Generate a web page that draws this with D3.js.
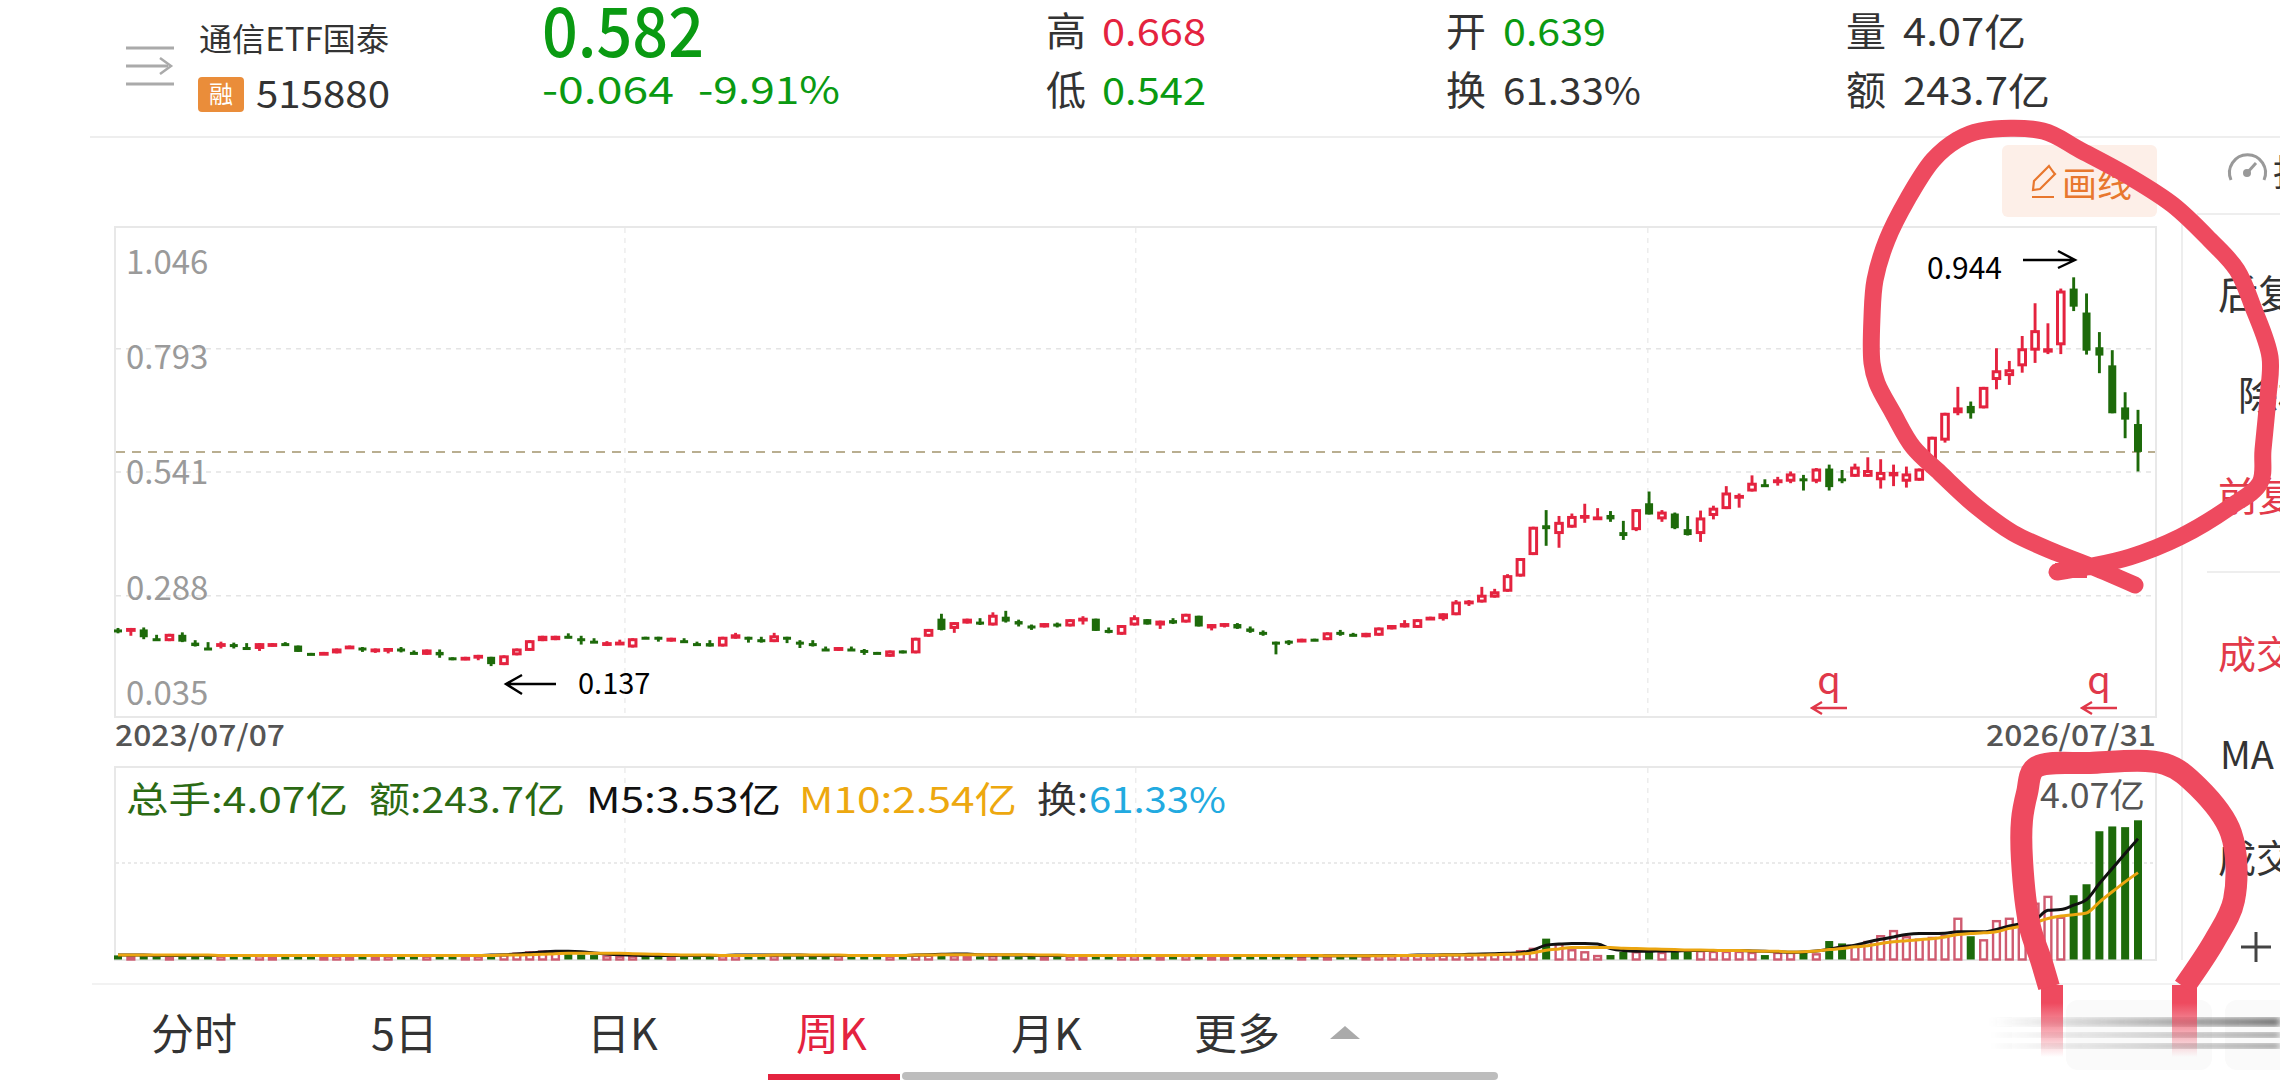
<!DOCTYPE html>
<html><head><meta charset="utf-8">
<style>html,body{margin:0;padding:0;background:#fff;overflow:hidden}svg{display:block}text{font-family:"Noto Sans CJK SC","Noto Sans",sans-serif}</style>
<script src="https://cdn.jsdelivr.net/npm/d3@7/dist/d3.min.js"></script>
</head><body><svg id="c" width="2280" height="1080" xmlns="http://www.w3.org/2000/svg"></svg>
<script>
const open=[.219,.214,.219,.201,.195,.208,.192,.182,.185,.189,
.183,.179,.187,.191,.186,.171,.169,.170,.179,.182,
.174,.175,.180,.173,.167,.173,.162,.156,.161,.163,
.146,.166,.175,.195,.197,.206,.201,.196,.188,.189,
.182,.204,.204,.194,.197,.191,.191,.184,.200,.204,
.199,.193,.204,.194,.191,.180,.175,.180,.177,.173,
.163,.176,.170,.204,.241,.220,.231,.235,.227,.245,
.236,.227,.223,.231,.225,.237,.241,.218,.208,.227,
.240,.227,.238,.233,.247,.221,.226,.230,.221,.214,
.194,.196,.193,.200,.197,.214,.210,.203,.206,.219,
.223,.222,.239,.240,.248,.272,.274,.284,.296,.327,
.371,.432,.414,.427,.446,.444,.453,.418,.422,.477,
.444,.456,.424,.414,.451,.465,.489,.501,.516,.518,
.521,.528,.521,.548,.528,.531,.531,.524,.532,.521,
.523,.555,.605,.661,.676,.671,.729,.737,.757,.789,
.785,.800,.916,.867,.796,.759,.673,.639];
const high=[.222,.222,.223,.208,.210,.213,.197,.193,.194,.192,
.191,.191,.191,.193,.186,.171,.173,.180,.186,.183,
.180,.181,.183,.176,.178,.178,.162,.163,.167,.163,
.166,.180,.197,.206,.206,.211,.206,.201,.195,.198,
.201,.204,.204,.202,.201,.194,.197,.204,.212,.204,
.204,.212,.204,.197,.197,.184,.183,.184,.179,.173,
.176,.176,.202,.220,.251,.234,.241,.242,.254,.257,
.239,.229,.232,.233,.240,.246,.241,.223,.228,.248,
.240,.237,.242,.251,.247,.230,.232,.232,.225,.217,
.194,.197,.200,.200,.213,.218,.212,.212,.223,.228,
.238,.240,.245,.252,.279,.279,.306,.302,.332,.365,
.429,.463,.451,.456,.476,.467,.461,.441,.465,.501,
.463,.458,.451,.462,.472,.512,.497,.534,.526,.531,
.542,.535,.549,.556,.545,.558,.571,.567,.556,.552,
.548,.613,.662,.715,.685,.715,.794,.768,.819,.886,
.845,.916,.939,.906,.827,.790,.704,.668];
const low=[.211,.206,.199,.196,.195,.193,.184,.177,.180,.180,
.180,.175,.184,.186,.173,.169,.169,.170,.179,.173,
.171,.170,.172,.169,.167,.161,.156,.156,.156,.144,
.146,.166,.175,.195,.197,.201,.188,.192,.185,.187,
.182,.200,.194,.194,.192,.186,.184,.184,.200,.192,
.192,.193,.191,.181,.184,.175,.175,.175,.167,.169,
.163,.170,.170,.204,.217,.212,.231,.228,.227,.233,
.225,.218,.223,.223,.225,.229,.216,.211,.208,.227,
.229,.220,.230,.233,.225,.217,.223,.220,.212,.206,
.168,.187,.193,.195,.197,.206,.205,.203,.206,.219,
.223,.222,.239,.237,.248,.267,.274,.284,.296,.327,
.371,.390,.386,.427,.437,.443,.439,.402,.420,.454,
.439,.424,.411,.398,.444,.465,.468,.501,.512,.513,
.518,.503,.518,.503,.518,.531,.531,.507,.512,.509,
.523,.555,.601,.657,.650,.671,.710,.719,.744,.764,
.782,.782,.870,.781,.743,.661,.610,.542];
const close=[.216,.222,.203,.197,.210,.194,.185,.178,.191,.184,
.181,.191,.191,.189,.173,.169,.173,.180,.186,.176,
.180,.181,.176,.170,.178,.166,.160,.163,.167,.148,
.166,.180,.197,.206,.206,.203,.197,.194,.193,.194,
.201,.200,.200,.202,.193,.187,.184,.204,.209,.201,
.197,.207,.199,.191,.186,.178,.183,.178,.172,.169,
.176,.170,.202,.220,.218,.234,.241,.229,.249,.235,
.229,.224,.232,.225,.240,.243,.216,.214,.228,.244,
.229,.237,.231,.251,.225,.230,.232,.221,.214,.209,
.192,.192,.200,.195,.213,.208,.206,.212,.223,.228,
.232,.240,.245,.252,.276,.278,.290,.297,.330,.365,
.429,.424,.439,.451,.453,.450,.444,.410,.465,.454,
.460,.426,.412,.448,.468,.499,.494,.519,.514,.526,
.538,.523,.548,.510,.524,.552,.545,.541,.541,.538,
.548,.613,.662,.673,.661,.715,.749,.751,.794,.831,
.794,.912,.879,.789,.779,.661,.648,.582];
const volume=[.12,.10,.12,.09,.10,.11,.09,.09,.11,.09,
.09,.12,.10,.09,.11,.09,.09,.11,.10,.09,
.10,.11,.09,.09,.11,.10,.09,.10,.11,.12,
.15,.20,.24,.26,.22,.16,.15,.13,.12,.11,
.11,.10,.10,.09,.10,.10,.10,.12,.12,.09,
.10,.12,.10,.10,.09,.10,.12,.09,.09,.09,
.11,.09,.15,.14,.16,.12,.10,.09,.12,.11,
.09,.09,.10,.09,.11,.10,.11,.09,.11,.12,
.09,.10,.09,.12,.11,.10,.09,.09,.09,.09,
.10,.09,.09,.08,.10,.09,.09,.10,.12,.12,
.12,.13,.12,.14,.16,.14,.17,.18,.20,.27,
.34,.61,.47,.30,.24,.13,.13,.22,.24,.22,
.22,.27,.27,.27,.25,.25,.25,.22,.13,.22,
.22,.22,.18,.54,.47,.42,.54,.71,.86,.68,
.61,.66,.71,1.22,.68,.59,1.15,1.22,1.44,1.66,
1.86,1.25,1.88,2.2,3.75,3.89,3.87,4.07];
const ma5=[.13,.13,.13,.12,.12,.12,.12,.12,.12,.12,
.12,.12,.12,.12,.12,.12,.12,.12,.12,.12,
.12,.12,.12,.12,.12,.12,.12,.12,.12,.13,
.14,.16,.19,.22,.24,.24,.23,.19,.16,.14,
.13,.12,.12,.12,.12,.12,.12,.12,.13,.13,
.13,.13,.13,.13,.12,.12,.12,.12,.12,.12,
.12,.12,.13,.14,.15,.16,.16,.14,.13,.13,
.13,.12,.12,.12,.12,.12,.12,.12,.12,.12,
.12,.12,.12,.12,.12,.12,.12,.12,.12,.12,
.11,.11,.11,.11,.11,.11,.11,.11,.12,.12,
.12,.13,.13,.14,.14,.15,.16,.17,.18,.20,
.28,.42,.45,.47,.47,.45,.32,.26,.24,.24,
.25,.25,.26,.26,.26,.26,.26,.25,.24,.23,
.21,.22,.25,.30,.37,.42,.51,.59,.66,.73,
.76,.76,.77,.81,.81,.81,.88,.98,1.05,1.15,
1.44,1.46,1.59,1.75,2.22,2.66,3.10,3.53];
const ma10=[.13,.13,.13,.13,.13,.13,.13,.13,.12,.12,
.12,.12,.12,.12,.12,.12,.12,.12,.12,.12,
.12,.12,.12,.12,.12,.12,.12,.12,.12,.12,
.13,.13,.14,.15,.17,.18,.18,.18,.18,.18,
.17,.16,.15,.14,.13,.13,.13,.12,.12,.12,
.12,.13,.13,.13,.13,.13,.13,.12,.12,.12,
.12,.12,.13,.13,.14,.14,.14,.14,.14,.14,
.14,.14,.13,.13,.12,.12,.12,.12,.12,.12,
.12,.12,.12,.12,.12,.12,.12,.12,.12,.12,
.12,.12,.12,.12,.11,.11,.11,.11,.11,.11,
.12,.12,.12,.13,.13,.13,.13,.14,.15,.16,
.20,.27,.31,.35,.35,.35,.35,.33,.32,.31,
.30,.29,.28,.28,.27,.26,.26,.25,.24,.24,
.22,.23,.25,.29,.32,.37,.40,.47,.52,.55,
.58,.61,.66,.73,.76,.78,.81,.91,.98,1.08,
1.20,1.27,1.31,1.36,1.68,1.98,2.27,2.54];
const priceTicks=[1.046,0.793,0.541,0.288,0.035];
const priceTickLabels=["1.046","0.793","0.541","0.288","0.035"];
const dateLabels=["2023/07/07","2026/07/31"];
const lastPrice=0.582;
const tabs=["分时","5日","日K","周K","月K","更多"];

const RED="#e4233f",GREEN="#1d6a0a",LIME="#0a9a12",INK="#333",STROKE="#ee4a5f";
const svg=d3.select("#c");
const x=d3.scaleLinear().domain([0,open.length-1]).range([118,2138]);
const y=d3.scaleLinear().domain([0.035,1.046]).range([719.4,225]);
const yv=d3.scaleLinear().domain([0,4.07]).range([959.5,820.3]);

function T(px,py,s,size,fill,opt={}){
  return svg.append("text").attr("x",px).attr("y",py).attr("dy","0.36em").text(s)
   .attr("font-size",size).attr("fill",fill).attr("text-anchor",opt.a||"start").attr("font-weight",opt.w||400)
   .attr("textLength",opt.len||null).attr("lengthAdjust",opt.len?"spacingAndGlyphs":null);
}
const L=(x1,y1,x2,y2,c,w,d)=>svg.append("line").attr("x1",x1).attr("y1",y1).attr("x2",x2).attr("y2",y2).attr("stroke",c).attr("stroke-width",w).attr("stroke-dasharray",d||null);

// header
[[48],[84]].forEach(r=>L(126,r[0],174,r[0],"#aaa",3));
L(126,66,168,66,"#aaa",3);
svg.append("path").attr("d","M160 58 L171 66 L160 74").attr("fill","none").attr("stroke","#aaa").attr("stroke-width",2.5);
T(199,39,"通信ETF国泰",32,INK,{len:190});
svg.append("rect").attr("x",198).attr("y",77).attr("width",46).attr("height",35).attr("rx",4).attr("fill","#ea8d3a");
T(221,94,"融",24,"#fff",{a:"middle"});
T(256,94,"515880",38,INK,{len:134});
T(542,33,"0.582",68,LIME,{w:500,len:162});
T(542,90,"-0.064",38,LIME,{len:132});
T(698,90,"-9.91%",38,LIME,{len:142});
T(1046,32,"高",40,INK);T(1102,32,"0.668",38,RED,{len:104});
T(1046,91,"低",40,INK);T(1102,91,"0.542",38,LIME,{len:104});
T(1446,32,"开",40,INK);T(1503,32,"0.639",38,LIME,{len:103});
T(1446,91,"换",40,INK);T(1503,91,"61.33%",38,INK,{len:138});
T(1846,32,"量",40,INK);T(1903,32,"4.07亿",38,INK,{len:123});
T(1846,91,"额",40,INK);T(1903,91,"243.7亿",38,INK,{len:147});
L(90,137,2280,137,"#eeeeee",2);

// draw button
svg.append("rect").attr("x",2002).attr("y",145).attr("width",155).attr("height",72).attr("rx",6).attr("fill","#fdefe8");
svg.append("path").attr("d","M2034 181 L2049 166 Q2053 172 2055 174 L2040 189 L2033 190 Z M2032 197 L2054 197").attr("fill","none").attr("stroke","#e8772e").attr("stroke-width",2.2);
T(2062,184,"画线",35,"#e8772e");
svg.append("path").attr("d","M2231 180 A18 18 0 1 1 2264 180").attr("fill","none").attr("stroke","#999").attr("stroke-width",3);
svg.append("circle").attr("cx",2247).attr("cy",173).attr("r",4).attr("fill","#999");
L(2247,173,2256,163,"#999",3);
T(2273,173,"指",36,INK);

// right panel
L(2182,216,2182,960,"#eeeeee",2);L(2197,214,2280,214,"#eeeeee",2);L(2207,572,2280,572,"#eeeeee",2);
T(2218,295,"后复权",40,INK);T(2238,396,"除权",40,INK);T(2218,497,"前复权",40,"#e23a4a");
T(2218,654,"成交量",38,"#e23a4a");T(2220,755,"MA",38,INK);T(2218,858,"成交额",38,INK);
L(2241,947,2271,947,"#444",3);L(2256,932,2256,962,"#444",3);

// price panel frame and grid
const frame=(t,b)=>svg.append("rect").attr("x",115).attr("y",t).attr("width",2041).attr("height",b-t).attr("fill","none").attr("stroke","#e8e8e8").attr("stroke-width",2);
frame(227,717);
[x(39.4),x(79.1),x(118.9)].forEach(v=>{L(v,228,v,716,"#ededed",1.5,"5 5");L(v,768,v,959,"#ededed",1.5,"5 5");});
priceTicks.slice(1,4).forEach(v=>L(116,y(v),2155,y(v),"#e4e4e4",1.5,"5 5"));
L(116,y(lastPrice),2155,y(lastPrice),"#b9ae90",2,"9 7");

// tick labels, placed inside the frame as in the app
const labelShift=[37,8,0,-8,-26];
priceTicks.forEach((v,i)=>T(126,y(v)+labelShift[i],priceTickLabels[i],33,"#9a9a9a"));
T(115,736,dateLabels[0],29,"#555",{w:500,len:170});
T(2156,736,dateLabels[1],29,"#555",{w:500,a:"end",len:170});

// candles
const candles=svg.append("g");
open.forEach((o,i)=>{
  const c=close[i],up=c>=o,col=up?RED:GREEN,px=x(i);
  candles.append("line").attr("x1",px).attr("x2",px).attr("y1",y(high[i])).attr("y2",y(low[i])).attr("stroke",col).attr("stroke-width",2.9);
  const t=y(Math.max(o,c)),b=y(Math.min(o,c));
  if(up) candles.append("rect").attr("x",px-3.3).attr("y",t+1.5).attr("width",6.6).attr("height",Math.max(b-t-3,0.8)).attr("fill","#fff").attr("stroke",col).attr("stroke-width",3);
  else candles.append("rect").attr("x",px-4).attr("y",t).attr("width",8).attr("height",Math.max(b-t,3)).attr("fill",col);
});

// annotations
const ann=(p,s)=>svg.append("path").attr("d",p).attr("fill","none").attr("stroke",s||"#000").attr("stroke-width",2.4);
ann("M2023 260 L2075 260 M2058 251 L2075 260 L2058 268");
T(1927,268,"0.944",30,"#000");
ann("M556 684 L506 684 M522 675 L506 684 L522 694");
T(578,684,"0.137",29,"#000");
[1829,2099].forEach(q=>{
  T(q,680,"q",38,"#e0384a",{a:"middle"});
  ann(`M${q+18} 708 L${q-17} 708 M${q-7} 702 L${q-17} 708 L${q-7} 714`,"#e0384a");
});

// volume panel
frame(767,960);
L(116,863,2155,863,"#e4e4e4",1.5,"3 3");
const vols=svg.append("g");
volume.forEach((v,i)=>{
  const up=close[i]>=open[i],px=x(i),t=yv(v),h=yv(0)-t;
  if(up) vols.append("rect").attr("x",px-3.4).attr("y",t+1).attr("width",6.8).attr("height",Math.max(h-1,0.5)).attr("fill","#fff").attr("stroke","#cf5b70").attr("stroke-width",2.4);
  else vols.append("rect").attr("x",px-4).attr("y",t).attr("width",8).attr("height",h).attr("fill",GREEN);
});
const line=a=>d3.line().x((d,i)=>x(i)).y(d=>yv(d)).curve(d3.curveMonotoneX)(a);
svg.append("path").attr("d",line(ma5)).attr("fill","none").attr("stroke","#111").attr("stroke-width",3);
svg.append("path").attr("d",line(ma10)).attr("fill","none").attr("stroke","#eba510").attr("stroke-width",3);

T(126,800,"总手:4.07亿",36,"#2b6a13",{len:222});
T(369,800,"额:243.7亿",36,"#2b6a13",{len:196});
T(586,800,"M5:3.53亿",36,"#111",{len:195});
T(799,800,"M10:2.54亿",36,"#eda80f",{len:218});
T(1037,800,"换:",36,INK,{len:51});
T(1089,800,"61.33%",36,"#22aae0",{len:137});
T(2145,796,"4.07亿",34,"#555",{a:"end",len:105});

// bottom tabs
L(92,984,2280,984,"#f2f2f2",2);
const tabX=[151,371,587,796,1011,1194];
tabs.forEach((t,i)=>T(tabX[i],1035,t,43,i==3?RED:INK));
svg.append("path").attr("d","M1330 1039 L1345 1026 L1360 1039 Z").attr("fill","#aaa");
svg.append("rect").attr("x",902).attr("y",1072).attr("width",596).attr("height",8).attr("rx",4).attr("fill","#bdbdbd");
svg.append("rect").attr("x",768).attr("y",1074).attr("width",132).attr("height",6).attr("fill",RED);

// blurred footer residue
const defs=svg.append("defs");
defs.append("filter").attr("id","bl").append("feGaussianBlur").attr("stdDeviation",3);
svg.append("rect").attr("x",2066).attr("y",1000).attr("width",146).attr("height",70).attr("rx",12).attr("fill","#fafafa");
svg.append("rect").attr("x",2225).attr("y",1000).attr("width",70).attr("height",70).attr("rx",12).attr("fill","#fafafa");
const gr=defs.append("linearGradient").attr("id","gs");
gr.append("stop").attr("offset",0).attr("stop-color","#555").attr("stop-opacity",0);
gr.append("stop").attr("offset",1).attr("stop-color","#444").attr("stop-opacity",.85);
[[1022,8],[1035,4],[1046,4]].forEach(r=>svg.append("rect").attr("x",1990).attr("y",r[0]-r[1]/2).attr("width",290).attr("height",r[1]).attr("fill","url(#gs)").attr("filter","url(#bl)"));
const fd=defs.append("linearGradient").attr("id","fd").attr("x1",0).attr("x2",0).attr("y1",0).attr("y2",1);
fd.append("stop").attr("offset",0).attr("stop-color",STROKE);
fd.append("stop").attr("offset",.25).attr("stop-color",STROKE);
fd.append("stop").attr("offset",1).attr("stop-color",STROKE).attr("stop-opacity",0);
svg.append("rect").attr("x",2041).attr("y",985).attr("width",22).attr("height",72).attr("fill","url(#fd)");
svg.append("rect").attr("x",2172).attr("y",985).attr("width",25).attr("height",72).attr("fill","url(#fd)");

// hand-drawn red rings, on top of everything
const ring1=[[2135,585],[2093,567],[2057,553],[2013,533],[1977,507],[1940,473],[1913,447],[1893,413],[1877,383],[1872,363],[1872,317],[1875,280],[1887,240],[1907,200],[1933,160],[1957,140],[1980,131],[2043,131],[2080,150],[2130,177],[2173,205],[2210,240],[2237,270],[2253,307],[2270,357],[2268,397],[2263,450],[2260,483],[2230,507],[2180,537],[2130,557],[2087,567],[2057,572]];
const ring2=[[2049,987],[2041,960],[2030,927],[2022,860],[2022,820],[2027,793],[2035,768],[2090,763],[2165,764],[2198,787],[2231,833],[2234,900],[2215,940],[2184,987]];
const rl=d3.line().curve(d3.curveCatmullRom.alpha(.5));
svg.append("path").attr("d",rl(ring1)).attr("fill","none").attr("stroke",STROKE).attr("stroke-width",17).attr("stroke-linecap","round").attr("stroke-linejoin","round");
svg.append("rect").attr("x",2055).attr("y",563).attr("width",32).attr("height",15).attr("fill",STROKE);
svg.append("path").attr("d",rl(ring2)).attr("fill","none").attr("stroke",STROKE).attr("stroke-width",22).attr("stroke-linecap","butt");
</script></body></html>
